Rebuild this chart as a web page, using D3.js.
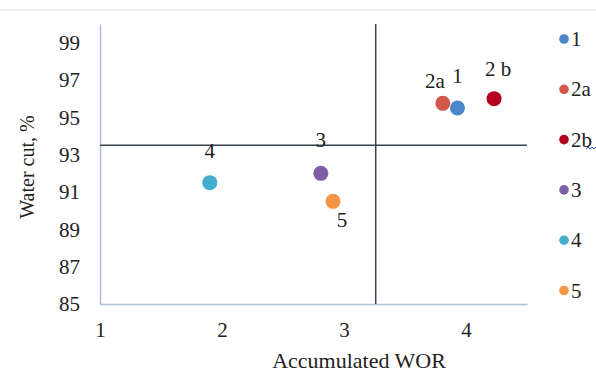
<!DOCTYPE html>
<html><head><meta charset="utf-8">
<script src="https://cdn.jsdelivr.net/npm/d3@7"></script>
<style>body{margin:0;background:#fff}svg{display:block}svg text{font-family:'Liberation Serif','Times New Roman','DejaVu Serif',serif !important;fill:#222}</style>
</head><body><svg id="c" width="596" height="374"></svg>
<script>
const names = ["1","2a","2b","3","4","5"];
const labels = ["1","2a","2 b","3","4","5"];
const legendLabels = ["1","2a","2b","3","4","5"];
const wor = [3.93, 3.81, 4.23, 2.81, 1.9, 2.91];
const waterCut = [95.5, 95.75, 96.0, 92.0, 91.5, 90.5];
const colors = ["#4a86c8","#d4574b","#b3001e","#7e5fa6","#42aecb","#f49444"];
const xTicks = [1,2,3,4];
const yTicks = [85,87,89,91,93,95,97,99];
const crossX = 3.26, crossY = 93.5;
// label offsets (dx, dy) relative to point
const labelOff = [[0,-25],[-8,-15],[4,-23],[0,-26],[0,-25],[9,26]];

const svg = d3.select("#c");
const x = d3.scaleLinear().domain([1,4.5]).range([100,527]);
const y = d3.scaleLinear().domain([85,100]).range([304,24]);
const FS = 21;

svg.append("line").attr("x1",0).attr("x2",596).attr("y1",10).attr("y2",10).attr("stroke","#e3ebf1").attr("stroke-width",1.5);

const xa = svg.append("g").attr("transform","translate(0,304)").call(d3.axisBottom(x).tickValues(xTicks).tickSize(0).tickPadding(18).tickFormat(d3.format("d")));
xa.attr("font-family",null);
xa.select(".domain").attr("stroke","#a9bfd6").attr("stroke-width",1.5);
xa.selectAll("text").attr("font-size",FS).attr("fill","#222");
const ya = svg.append("g").attr("transform","translate(100,0)").call(d3.axisLeft(y).tickValues(yTicks).tickSize(0).tickPadding(20));
ya.attr("font-family",null);
ya.select(".domain").attr("stroke","#a9bfd6").attr("stroke-width",1.5);
ya.selectAll("text").attr("font-size",FS).attr("fill","#222");

svg.append("line").attr("x1",x(1)).attr("x2",x(4.5)).attr("y1",y(crossY)).attr("y2",y(crossY)).attr("stroke","#36444f").attr("stroke-width",1.5);
svg.append("line").attr("x1",x(crossX)).attr("x2",x(crossX)).attr("y1",y(100)).attr("y2",y(85)).attr("stroke","#36444f").attr("stroke-width",1.5);

[1,0,2,3,4,5].forEach(i=>{
  svg.append("circle").attr("cx",x(wor[i])).attr("cy",y(waterCut[i])).attr("r",7.5).attr("fill",colors[i]);
});
[0,1,2,3,4,5].forEach(i=>{
  svg.append("text").attr("x",x(wor[i])+labelOff[i][0]).attr("y",y(waterCut[i])+labelOff[i][1]).attr("text-anchor","middle").attr("font-size",FS).text(labels[i]);
});

svg.append("text").attr("x",359).attr("y",368).attr("text-anchor","middle").attr("font-size",22).text("Accumulated WOR");
svg.append("text").attr("transform","translate(34,167) rotate(-90)").attr("text-anchor","middle").attr("font-size",20).text("Water cut, %");

const lg = svg.append("g");
names.forEach((n,i)=>{
  const ly = 39 + i*50.3;
  lg.append("circle").attr("cx",564).attr("cy",ly).attr("r",4.8).attr("fill",colors[i]);
  lg.append("text").attr("x",571).attr("y",ly+7).attr("font-size",FS).text(legendLabels[i]);
});
// small spell-check squiggle under "2b" in the legend
lg.append("path").attr("d","M586,149 l2,-2 l2,2 l2,-2 l2,2 l2,-2").attr("fill","none").attr("stroke","#3050d0").attr("stroke-width",1);
</script></body></html>
